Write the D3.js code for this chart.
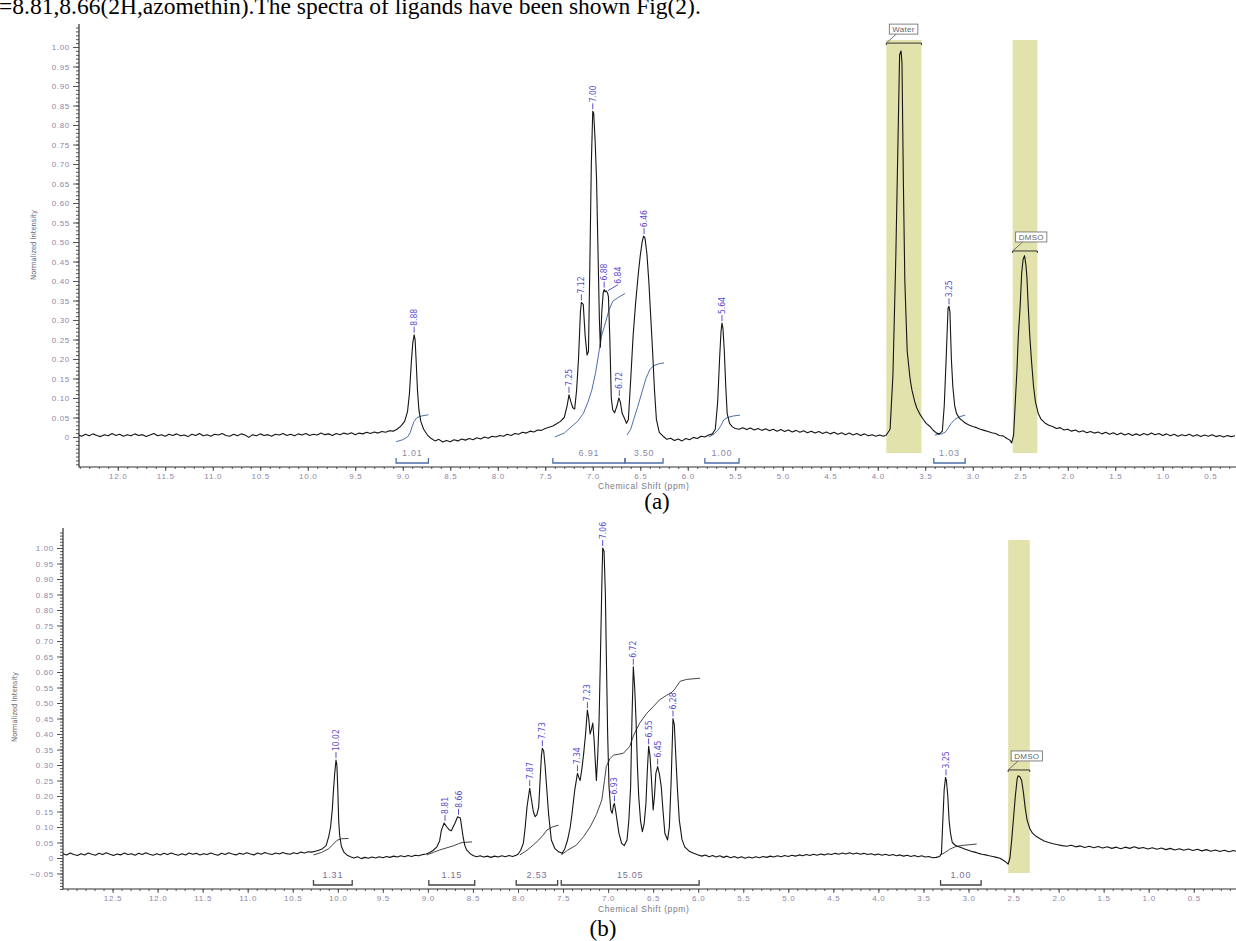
<!DOCTYPE html>
<html>
<head>
<meta charset="utf-8">
<script src="https://cdn.jsdelivr.net/npm/d3@7"></script>
<style>
body { margin: 0; background: #fff; overflow: hidden; }
svg { display: block; }
</style>
</head>
<body>
<svg id="chart" width="1236" height="941"></svg>
<script>
// ---------- data ----------
var yTicks = [0, 0.05, 0.10, 0.15, 0.20, 0.25, 0.30, 0.35, 0.40, 0.45, 0.50, 0.55, 0.60, 0.65, 0.70, 0.75, 0.80, 0.85, 0.90, 0.95, 1.00];
var yTicksB = [-0.05].concat(yTicks);
var xTicksA = [12.0, 11.5, 11.0, 10.5, 10.0, 9.5, 9.0, 8.5, 8.0, 7.5, 7.0, 6.5, 6.0, 5.5, 5.0, 4.5, 4.0, 3.5, 3.0, 2.5, 2.0, 1.5, 1.0, 0.5];
var xTicksB = [12.5].concat(xTicksA);

// spectrum (a): [ppm, normalized intensity]
var specA = [[12.42,0.006],[12.38,0.002],[12.34,0.007],[12.30,0.003],[12.26,0.008],[12.22,0.004],[12.18,0.001],[12.14,0.006],[12.10,0.003],[12.06,0.009],[12.02,0.004],[11.98,0.007],[11.94,0.002],[11.90,0.006],[11.86,0.003],[11.82,0.008],[11.78,0.004],[11.74,0.006],[11.70,0.001],[11.66,0.005],[11.62,0.009],[11.58,0.003],[11.54,0.006],[11.50,0.002],[11.46,0.007],[11.42,0.004],[11.38,0.008],[11.34,0.003],[11.30,0.005],[11.26,0.001],[11.22,0.007],[11.18,0.004],[11.14,0.009],[11.10,0.003],[11.06,0.006],[11.02,0.002],[10.98,0.007],[10.94,0.005],[10.90,0.009],[10.86,0.004],[10.82,0.002],[10.78,0.007],[10.74,0.003],[10.70,0.008],[10.66,0.005],[10.62,-0.001],[10.58,0.006],[10.54,0.003],[10.50,0.008],[10.46,0.004],[10.42,0.006],[10.38,0.002],[10.34,0.007],[10.30,0.005],[10.26,0.009],[10.22,0.004],[10.18,0.007],[10.14,0.003],[10.10,0.008],[10.06,0.005],[10.02,0.009],[9.98,0.004],[9.94,0.007],[9.90,0.005],[9.86,0.010],[9.82,0.006],[9.78,0.008],[9.74,0.004],[9.70,0.009],[9.66,0.006],[9.62,0.010],[9.58,0.007],[9.54,0.011],[9.50,0.006],[9.46,0.010],[9.42,0.008],[9.38,0.012],[9.34,0.009],[9.30,0.013],[9.26,0.010],[9.22,0.014],[9.18,0.012],[9.14,0.016],[9.10,0.015],[9.06,0.020],
  [9.02,0.028],[8.98,0.040],[8.95,0.065],[8.93,0.11],[8.91,0.19],[8.895,0.24],[8.88,0.262],[8.87,0.25],[8.86,0.20],[8.845,0.12],[8.83,0.07],[8.81,0.04],[8.78,0.02],[8.74,0.005],[8.70,-0.004],[8.66,-0.010],[8.62,-0.006],[8.58,-0.013],[8.54,-0.009],[8.50,-0.012],[8.46,-0.007],[8.42,-0.010],[8.38,-0.005],[8.34,-0.008],[8.30,-0.004],[8.26,-0.007],[8.22,-0.002],[8.18,-0.005],[8.14,0.000],[8.10,-0.003],[8.06,0.002],[8.02,0.000],[7.98,0.004],[7.94,0.002],[7.90,0.007],[7.86,0.004],[7.82,0.009],[7.78,0.007],[7.74,0.012],[7.70,0.010],[7.66,0.015],[7.62,0.013],[7.58,0.018],[7.54,0.017],[7.50,0.022],[7.46,0.025],[7.42,0.028],[7.38,0.034],[7.34,0.040],[7.30,0.050],[7.27,0.08],[7.25,0.108],[7.23,0.09],[7.21,0.075],[7.19,0.072],[7.17,0.12],[7.15,0.20],[7.13,0.32],[7.12,0.345],[7.10,0.34],[7.08,0.26],[7.06,0.21],[7.045,0.22],[7.03,0.45],[7.015,0.70],[7.00,0.835],[6.99,0.83],[6.975,0.76],[6.96,0.66],[6.945,0.48],[6.93,0.30],[6.92,0.23],[6.905,0.32],[6.89,0.37],[6.88,0.378],[6.87,0.372],[6.86,0.375],[6.845,0.37],[6.835,0.36],[6.82,0.25],[6.805,0.10],[6.79,0.07],[6.77,0.062],[6.745,0.08],[6.725,0.10],[6.71,0.09],[6.69,0.06],[6.67,0.05],[6.645,0.035],[6.625,0.045],[6.60,0.15],[6.575,0.26],[6.55,0.34],[6.52,0.42],[6.50,0.465],[6.48,0.50],[6.465,0.515],[6.45,0.51],[6.43,0.47],[6.41,0.40],[6.39,0.31],[6.37,0.22],[6.35,0.12],[6.33,0.045],[6.30,0.012],[6.26,0.002],[6.22,-0.006],[6.18,-0.003],[6.14,-0.009],[6.10,-0.005],[6.06,-0.010],[6.02,-0.004],[5.98,-0.007],[5.94,-0.001],[5.90,-0.004],[5.86,0.002],[5.82,0.000],[5.78,0.005],[5.74,0.008],[5.71,0.02],[5.685,0.09],[5.665,0.20],[5.65,0.27],[5.64,0.292],[5.63,0.28],[5.615,0.22],[5.60,0.13],[5.585,0.06],[5.56,0.035],[5.53,0.026],[5.50,0.022],[5.46,0.020],[5.42,0.024],[5.38,0.019],[5.34,0.023],[5.30,0.018],[5.26,0.022],[5.22,0.017],[5.18,0.021],[5.14,0.016],[5.10,0.020],[5.06,0.015],[5.02,0.019],[4.98,0.014],[4.94,0.018],[4.90,0.013],[4.86,0.017],[4.82,0.012],[4.78,0.016],[4.74,0.011],[4.70,0.015],[4.66,0.010],[4.62,0.014],[4.58,0.009],[4.54,0.013],[4.50,0.008],[4.46,0.012],[4.42,0.007],[4.38,0.011],[4.34,0.006],[4.30,0.010],[4.26,0.005],[4.22,0.009],[4.18,0.004],[4.14,0.008],[4.10,0.003],[4.06,0.006],[4.02,0.002],[3.98,0.005],[3.94,0.002],[3.91,0.005],[3.87,0.02],[3.84,0.16],[3.81,0.46],[3.79,0.72],[3.77,0.98],[3.755,0.99],[3.745,0.96],[3.73,0.65],[3.715,0.40],[3.69,0.22],[3.66,0.15],[3.64,0.12],[3.61,0.09],[3.59,0.075],[3.56,0.06],[3.52,0.045],[3.49,0.035],[3.45,0.027],[3.42,0.018],[3.38,0.010],[3.35,0.008],[3.32,0.015],[3.30,0.08],[3.28,0.20],[3.26,0.33],[3.25,0.335],[3.24,0.32],[3.225,0.20],[3.21,0.13],[3.19,0.08],[3.17,0.06],[3.14,0.048],[3.11,0.042],[3.08,0.036],[3.04,0.031],[3.00,0.027],[2.96,0.024],[2.92,0.020],[2.88,0.017],[2.84,0.014],[2.80,0.011],[2.76,0.009],[2.72,0.004],[2.68,0.003],[2.64,-0.004],[2.61,-0.008],[2.59,-0.015],[2.57,0.005],[2.55,0.10],[2.535,0.17],[2.52,0.26],[2.50,0.34],[2.485,0.42],[2.47,0.455],[2.455,0.465],[2.44,0.44],[2.43,0.41],[2.415,0.33],[2.40,0.26],[2.38,0.19],[2.36,0.13],[2.34,0.09],[2.31,0.06],[2.28,0.045],[2.24,0.036],[2.20,0.03],[2.16,0.027],[2.12,0.022],[2.08,0.024],[2.04,0.018],[2.00,0.020],[1.96,0.015],[1.92,0.018],[1.88,0.013],[1.84,0.016],[1.80,0.011],[1.76,0.014],[1.72,0.010],[1.68,0.013],[1.64,0.008],[1.60,0.012],[1.56,0.007],[1.52,0.011],[1.48,0.006],[1.44,0.010],[1.40,0.005],[1.36,0.009],[1.32,0.004],[1.28,0.008],[1.24,0.004],[1.20,0.009],[1.16,0.005],[1.12,0.010],[1.08,0.006],[1.04,0.009],[1.00,0.004],[0.96,0.008],[0.92,0.003],[0.88,0.007],[0.84,0.002],[0.80,0.006],[0.76,0.003],[0.72,0.007],[0.68,0.002],[0.64,0.006],[0.60,0.001],[0.56,0.005],[0.52,0.002],[0.48,0.006],[0.44,0.001],[0.40,0.004],[0.36,0.000],[0.32,0.004],[0.28,0.001],[0.24,0.003]];

// spectrum (b)
var specB = [[13.05,0.014],[13.01,0.010],[12.97,0.016],[12.93,0.011],[12.89,0.008],[12.85,0.014],[12.81,0.010],[12.77,0.016],[12.73,0.012],[12.69,0.009],[12.65,0.015],[12.61,0.011],[12.57,0.017],[12.53,0.012],[12.49,0.008],[12.45,0.013],[12.41,0.010],[12.37,0.016],[12.33,0.011],[12.29,0.014],[12.25,0.009],[12.21,0.015],[12.17,0.011],[12.13,0.017],[12.09,0.012],[12.05,0.009],[12.01,0.014],[11.97,0.010],[11.93,0.015],[11.89,0.011],[11.85,0.016],[11.81,0.012],[11.77,0.009],[11.73,0.014],[11.69,0.010],[11.65,0.016],[11.61,0.012],[11.57,0.015],[11.53,0.010],[11.49,0.014],[11.45,0.011],[11.41,0.016],[11.37,0.012],[11.33,0.009],[11.29,0.015],[11.25,0.011],[11.21,0.017],[11.17,0.013],[11.13,0.010],[11.09,0.015],[11.05,0.012],[11.01,0.017],[10.97,0.013],[10.93,0.010],[10.89,0.016],[10.85,0.012],[10.81,0.018],[10.77,0.014],[10.73,0.011],[10.69,0.016],[10.65,0.013],[10.61,0.018],[10.57,0.014],[10.53,0.012],[10.49,0.017],[10.45,0.014],[10.41,0.019],[10.37,0.016],[10.33,0.020],[10.29,0.019],[10.25,0.022],[10.21,0.025],[10.17,0.030],[10.13,0.040],[10.10,0.07],[10.08,0.10],[10.06,0.16],[10.05,0.21],[10.035,0.27],[10.02,0.316],[10.01,0.30],[10.00,0.22],[9.99,0.12],[9.98,0.075],[9.96,0.037],[9.93,0.018],[9.90,0.010],[9.86,0.004],[9.82,0.000],[9.78,0.004],[9.74,-0.002],[9.70,0.002],[9.66,-0.001],[9.62,0.003],[9.58,0.000],[9.54,0.004],[9.50,0.001],[9.46,0.005],[9.42,0.002],[9.38,0.006],[9.34,0.003],[9.30,0.007],[9.26,0.004],[9.22,0.008],[9.18,0.005],[9.14,0.009],[9.10,0.007],[9.06,0.011],[9.02,0.013],[8.98,0.018],[8.94,0.025],[8.90,0.036],[8.87,0.055],[8.85,0.09],[8.82,0.113],[8.79,0.10],[8.76,0.09],[8.74,0.088],[8.72,0.10],[8.70,0.112],[8.67,0.133],[8.64,0.129],[8.62,0.09],[8.61,0.069],[8.59,0.04],[8.57,0.026],[8.53,0.014],[8.50,0.008],[8.46,0.004],[8.42,0.007],[8.38,0.003],[8.34,0.006],[8.30,0.002],[8.26,0.006],[8.22,0.003],[8.18,0.007],[8.14,0.004],[8.10,0.008],[8.06,0.005],[8.02,0.009],[8.00,0.012],[7.97,0.025],[7.94,0.048],[7.92,0.10],[7.90,0.165],[7.87,0.225],[7.85,0.187],[7.83,0.15],[7.81,0.133],[7.79,0.14],[7.77,0.165],[7.755,0.25],[7.74,0.33],[7.73,0.354],[7.715,0.345],[7.70,0.30],[7.68,0.22],[7.66,0.14],[7.63,0.058],[7.59,0.03],[7.55,0.02],[7.51,0.015],[7.48,0.03],[7.45,0.058],[7.42,0.10],[7.40,0.144],[7.37,0.22],[7.34,0.273],[7.325,0.26],[7.31,0.25],[7.29,0.29],[7.27,0.34],[7.25,0.40],[7.23,0.477],[7.215,0.45],[7.20,0.40],[7.185,0.415],[7.17,0.435],[7.155,0.38],[7.14,0.30],[7.13,0.25],[7.115,0.33],[7.10,0.445],[7.085,0.65],[7.07,0.875],[7.06,1.0],[7.045,0.99],[7.03,0.85],[7.02,0.66],[7.005,0.40],[6.99,0.23],[6.97,0.155],[6.955,0.144],[6.94,0.17],[6.93,0.176],[6.915,0.15],[6.90,0.12],[6.88,0.08],[6.85,0.047],[6.82,0.04],[6.79,0.058],[6.77,0.12],[6.75,0.23],[6.735,0.45],[6.72,0.617],[6.705,0.55],[6.69,0.445],[6.675,0.30],[6.66,0.198],[6.64,0.12],[6.62,0.085],[6.60,0.11],[6.58,0.176],[6.565,0.28],[6.55,0.36],[6.535,0.33],[6.52,0.26],[6.50,0.155],[6.485,0.20],[6.47,0.273],[6.45,0.295],[6.43,0.27],[6.41,0.23],[6.39,0.15],[6.37,0.08],[6.34,0.058],[6.32,0.10],[6.30,0.25],[6.28,0.45],[6.265,0.43],[6.25,0.338],[6.23,0.22],[6.21,0.123],[6.18,0.06],[6.15,0.036],[6.10,0.022],[6.05,0.015],[6.00,0.010],[5.96,0.006],[5.92,0.010],[5.88,0.004],[5.84,0.008],[5.80,0.003],[5.76,0.007],[5.72,0.002],[5.68,0.006],[5.64,0.001],[5.60,0.005],[5.56,0.000],[5.52,0.004],[5.48,-0.001],[5.44,0.003],[5.40,0.000],[5.36,0.004],[5.32,0.001],[5.28,0.005],[5.24,0.002],[5.20,0.006],[5.16,0.003],[5.12,0.007],[5.08,0.004],[5.04,0.008],[5.00,0.005],[4.96,0.009],[4.92,0.006],[4.88,0.010],[4.84,0.007],[4.80,0.011],[4.76,0.008],[4.72,0.012],[4.68,0.009],[4.64,0.013],[4.60,0.010],[4.56,0.014],[4.52,0.011],[4.48,0.015],[4.44,0.012],[4.40,0.016],[4.36,0.013],[4.32,0.017],[4.28,0.013],[4.24,0.016],[4.20,0.012],[4.16,0.015],[4.12,0.011],[4.08,0.014],[4.04,0.010],[4.00,0.013],[3.96,0.009],[3.92,0.012],[3.88,0.008],[3.84,0.011],[3.80,0.007],[3.76,0.010],[3.72,0.006],[3.68,0.009],[3.64,0.005],[3.60,0.008],[3.56,0.004],[3.52,0.007],[3.48,0.003],[3.44,0.005],[3.40,0.001],[3.36,0.002],[3.32,0.005],[3.30,0.015],[3.285,0.12],[3.27,0.22],[3.255,0.26],[3.245,0.25],[3.23,0.20],[3.215,0.12],[3.20,0.08],[3.18,0.05],[3.15,0.042],[3.12,0.037],[3.09,0.035],[3.05,0.030],[3.01,0.026],[2.97,0.022],[2.93,0.019],[2.89,0.015],[2.85,0.012],[2.81,0.010],[2.77,0.007],[2.73,0.005],[2.69,0.002],[2.65,-0.001],[2.61,-0.008],[2.58,-0.014],[2.56,-0.02],[2.54,0.00],[2.52,0.06],[2.50,0.13],[2.48,0.20],[2.46,0.255],[2.45,0.265],[2.43,0.262],[2.41,0.25],[2.39,0.21],[2.37,0.16],[2.35,0.123],[2.32,0.095],[2.29,0.08],[2.25,0.07],[2.21,0.063],[2.16,0.055],[2.11,0.050],[2.06,0.046],[2.01,0.043],[1.96,0.040],[1.91,0.038],[1.86,0.041],[1.81,0.036],[1.76,0.039],[1.71,0.034],[1.66,0.038],[1.61,0.033],[1.56,0.037],[1.51,0.032],[1.46,0.036],[1.41,0.031],[1.36,0.035],[1.31,0.030],[1.26,0.035],[1.21,0.031],[1.16,0.036],[1.11,0.031],[1.06,0.034],[1.01,0.029],[0.96,0.033],[0.91,0.028],[0.86,0.032],[0.81,0.027],[0.76,0.031],[0.71,0.026],[0.66,0.030],[0.61,0.025],[0.56,0.029],[0.51,0.024],[0.46,0.028],[0.41,0.023],[0.36,0.027],[0.31,0.022],[0.26,0.026],[0.21,0.021],[0.16,0.025],[0.11,0.020],[0.06,0.024],[0.02,0.021]];

// integral curves
var intCurvesA = [
  [[9.07,-0.012],[9.0,-0.007],[8.95,0.0],[8.92,0.012],[8.90,0.028],[8.88,0.04],[8.85,0.05],[8.80,0.054],[8.73,0.057]],
  [[7.40,0.0],[7.30,0.01],[7.24,0.023],[7.16,0.04],[7.10,0.06],[7.05,0.09],[7.01,0.12],[6.97,0.165],[6.94,0.21],[6.91,0.257],[6.87,0.29],[6.83,0.325],[6.79,0.348],[6.73,0.358],[6.66,0.368]],
  [[6.64,0.005],[6.60,0.02],[6.57,0.044],[6.53,0.075],[6.50,0.10],[6.47,0.125],[6.44,0.15],[6.40,0.172],[6.36,0.183],[6.30,0.188],[6.25,0.19]],
  [[5.78,0.0],[5.72,0.008],[5.68,0.018],[5.65,0.03],[5.62,0.044],[5.58,0.05],[5.52,0.054],[5.45,0.056]],
  [[3.40,0.005],[3.33,0.008],[3.29,0.012],[3.26,0.022],[3.23,0.034],[3.19,0.045],[3.14,0.052],[3.08,0.056]]
];
var intCurvesB = [
  [[10.27,0.01],[10.18,0.018],[10.10,0.03],[10.05,0.045],[10.01,0.057],[9.96,0.062],[9.88,0.063]],
  [[9.01,0.01],[8.94,0.018],[8.87,0.026],[8.80,0.032],[8.72,0.039],[8.66,0.046],[8.62,0.05],[8.51,0.052]],
  [[7.98,0.01],[7.90,0.025],[7.83,0.042],[7.77,0.058],[7.72,0.074],[7.68,0.09],[7.62,0.10],[7.55,0.106]],
  [[7.52,0.01],[7.45,0.025],[7.35,0.042],[7.27,0.07],[7.20,0.10],[7.13,0.14],[7.07,0.187],[7.04,0.25],[7.02,0.295],[6.98,0.32],[6.94,0.332],[6.88,0.335],[6.83,0.338],[6.76,0.36],[6.73,0.385],[6.71,0.40],[6.65,0.435],[6.57,0.467],[6.50,0.488],[6.43,0.51],[6.35,0.525],[6.29,0.535],[6.26,0.545],[6.20,0.57],[6.13,0.576],[5.98,0.58]],
  [[3.31,0.01],[3.26,0.018],[3.21,0.028],[3.15,0.036],[3.09,0.04],[2.91,0.045]]
];

// integration ranges and values
var intRangesA = [[9.07,8.73],[7.42,6.66],[6.66,6.26],[5.82,5.46],[3.41,3.08]];
var intValuesA = ["1.01","6.91","3.50","1.00","1.03"];
var intRangesB = [[10.27,9.84],[8.99,8.48],[8.02,7.56],[7.52,5.99],[3.31,2.86]];
var intValuesB = ["1.31","1.15","2.53","15.05","1.00"];

// picked peaks and their heights
var peaksA = [8.88, 7.25, 7.12, 7.00, 6.88, 6.84, 6.72, 6.46, 5.64, 3.25];
var peakTopsA = [0.262, 0.108, 0.345, 0.835, 0.378, 0.37, 0.10, 0.515, 0.292, 0.335];
var peaksB = [10.02, 8.81, 8.66, 7.87, 7.73, 7.34, 7.23, 7.06, 6.93, 6.72, 6.55, 6.45, 6.28, 3.25];
var peakTopsB = [0.316, 0.113, 0.133, 0.225, 0.354, 0.273, 0.477, 1.0, 0.176, 0.617, 0.36, 0.295, 0.45, 0.26];

// solvent regions [from, to] ppm
var solventA = [[3.91, 3.54], [2.58, 2.32]];
var solventNamesA = ["Water", "DMSO"];
var solventLevelsA = [1.01, 0.477];
var solventB = [[2.56, 2.32]];
var solventNamesB = ["DMSO"];
var solventLevelsB = [0.284];

// ---------- drawing ----------
var svg = d3.select("#chart");
var W = 1236;
var labelColor = "#8f86a6";
var peakColor = "#5a4ed0";
var fmt2 = d3.format(".2f");

svg.append("text")
  .attr("x", -1).attr("y", 14)
  .style("font-family", "'Liberation Serif','Times New Roman',serif")
  .style("font-size", "23.5px")
  .attr("fill", "#000")
  .text("=8.81,8.66(2H,azomethin).The spectra of ligands have been shown Fig(2).");

function styleTicks(a) {
  a.select(".domain").remove();
  a.selectAll("line").attr("stroke", "#555");
  a.selectAll("text").attr("fill", labelColor)
    .style("font-family", "'Liberation Sans',Arial,sans-serif")
    .style("font-size", "8px").style("letter-spacing", "0.7px");
}

function drawPanel(p) {
  var g = svg.append("g");
  var x = p.x, y = p.y;
  var clipId = "clip" + p.name;
  g.append("clipPath").attr("id", clipId).append("rect")
    .attr("x", p.left).attr("y", p.top).attr("width", W - p.left).attr("height", p.bottom - p.top);

  // solvent bands
  g.selectAll(".band").data(p.solvent).enter().append("rect")
    .attr("x", function(d) { return x(d[0]); })
    .attr("width", function(d) { return x(d[1]) - x(d[0]); })
    .attr("y", p.bandTop)
    .attr("height", p.bandBottom - p.bandTop)
    .attr("fill", "#e2e2ad");

  // y axis: minor then major ticks
  var yMinor = d3.range(p.yMin, p.yMax + 1).map(function(i) { return i / 100; });
  g.append("g").attr("transform", "translate(" + p.left + ",0)")
    .call(d3.axisLeft(y).tickValues(yMinor).tickSize(3).tickFormat(""))
    .call(styleTicks);
  g.append("g").attr("transform", "translate(" + p.left + ",0)")
    .call(d3.axisLeft(y).tickValues(p.yTicks).tickSize(6).tickPadding(3)
      .tickFormat(function(d) { return d === 0 ? "0" : fmt2(d); }))
    .call(styleTicks);

  // x axis
  var xMinor = d3.range(0, 135).map(function(i) { return i / 10; })
    .filter(function(v) { return x(v) >= p.left && x(v) <= W; });
  g.append("g").attr("transform", "translate(0," + p.bottom + ")")
    .call(d3.axisBottom(x).tickValues(xMinor).tickSize(2).tickFormat(""))
    .call(styleTicks);
  g.append("g").attr("transform", "translate(0," + p.bottom + ")")
    .call(d3.axisBottom(x).tickValues(p.xTicks).tickSize(4).tickPadding(2)
      .tickFormat(d3.format(".1f")))
    .call(styleTicks);

  g.append("path")
    .attr("d", "M" + p.left + "," + p.top + "V" + p.bottom + "H" + W)
    .attr("fill", "none").attr("stroke", "#333").attr("stroke-width", 1.2);

  g.append("text")
    .attr("x", p.titleX).attr("y", p.titleY)
    .style("font-family", "'Liberation Sans',Arial,sans-serif")
    .style("font-size", "8.5px").style("letter-spacing", "0.6px")
    .attr("fill", "#7a7a86")
    .text("Chemical Shift (ppm)");

  g.append("text")
    .attr("transform", "translate(" + p.ylabX + "," + p.ylabY + ") rotate(-90)")
    .attr("text-anchor", "middle")
    .style("font-family", "'DejaVu Sans Condensed','DejaVu Sans',sans-serif")
    .style("font-size", "7.5px")
    .attr("fill", "#6a6a7a")
    .text("Normalized Intensity");

  // integration brackets
  p.intRanges.forEach(function(r, i) {
    var x0 = x(r[0]), x1 = x(r[1]);
    g.append("path")
      .attr("d", "M" + x0 + "," + (p.brY - 5) + "V" + p.brY + "H" + x1 + "V" + (p.brY - 5))
      .attr("fill", "none").attr("stroke", p.intColor).attr("stroke-width", 1.3);
    g.append("text")
      .attr("x", (x0 + x1) / 2).attr("y", p.brY - 7)
      .attr("text-anchor", "middle")
      .style("font-family", "'Liberation Sans',Arial,sans-serif")
      .style("font-size", "9px").style("letter-spacing", "0.8px")
      .attr("fill", p.intLabelColor)
      .text(p.intValues[i]);
  });

  var line = d3.line()
    .x(function(d) { return x(d[0]); })
    .y(function(d) { return y(d[1]); });

  var plot = g.append("g").attr("clip-path", "url(#" + clipId + ")");

  plot.selectAll(".int").data(p.intCurves).enter().append("path")
    .attr("d", line)
    .attr("fill", "none").attr("stroke", p.intColor).attr("stroke-width", 1);

  plot.append("path").datum(p.spec)
    .attr("d", line)
    .attr("fill", "none").attr("stroke", "#151515").attr("stroke-width", 1.1)
    .attr("stroke-linejoin", "round");

  // solvent annotations (boxed name + bracket)
  p.solvent.forEach(function(r, i) {
    var x0 = x(r[0]), x1 = x(r[1]), by = y(p.solventLevels[i]);
    g.append("path")
      .attr("d", "M" + x0 + "," + (by + 2) + "V" + by + "H" + x1 + "V" + (by + 2))
      .attr("fill", "none").attr("stroke", "#333").attr("stroke-width", 1);
    var box = g.append("rect");
    var t = g.append("text")
      .attr("x", x0 + 6).attr("y", by - 11)
      .style("font-family", "'Liberation Sans',Arial,sans-serif")
      .style("font-size", "8px").style("letter-spacing", "0.3px")
      .attr("fill", "#666")
      .text(p.solventNames[i]);
    var bb = t.node().getBBox();
    box.attr("x", bb.x - 3).attr("y", by - 19)
      .attr("width", bb.width + 6).attr("height", 10)
      .attr("fill", "#fff").attr("stroke", "#666").attr("stroke-width", 0.8);
    g.append("path")
      .attr("d", "M" + x0 + "," + by + "L" + (bb.x + 4) + "," + (by - 9))
      .attr("fill", "none").attr("stroke", "#555").attr("stroke-width", 0.8);
  });

  // peak labels
  p.peaks.forEach(function(pk, i) {
    var px = x(pk), py = y(p.peakTops[i]);
    var dx = p.nudge[fmt2(pk)] || 0;
    g.append("path")
      .attr("d", "M" + px + "," + (py - 2) + "L" + (px + dx) + "," + (py - 8))
      .attr("fill", "none").attr("stroke", peakColor).attr("stroke-width", 1);
    g.append("text")
      .attr("transform", "translate(" + (px + dx) + "," + (py - 9) + ") rotate(-90)")
      .attr("dominant-baseline", "central")
      .style("font-family", "'DejaVu Sans Condensed','DejaVu Sans',sans-serif")
      .style("font-size", "8.5px")
      .attr("fill", peakColor)
      .text(fmt2(pk));
  });
}

drawPanel({
  name: "A",
  x: d3.scaleLinear().domain([0, 10]).range([1257.75, 307.75]),
  y: d3.scaleLinear().domain([0, 1]).range([437, 47]),
  left: 79, top: 24, bottom: 467,
  yMin: -7, yMax: 105,
  yTicks: yTicks, xTicks: xTicksA,
  bandTop: 40, bandBottom: 453,
  brY: 463, intColor: "#4b6fa8", intLabelColor: "#8a8aa6",
  titleX: 598, titleY: 489, ylabX: 36, ylabY: 245,
  spec: specA, intCurves: intCurvesA,
  intRanges: intRangesA, intValues: intValuesA,
  peaks: peaksA, peakTops: peakTopsA,
  solvent: solventA, solventNames: solventNamesA, solventLevels: solventLevelsA,
  nudge: {"6.84": 10}
});

drawPanel({
  name: "B",
  x: d3.scaleLinear().domain([0, 10]).range([1238.8, 337.8]),
  y: d3.scaleLinear().domain([0, 1]).range([858, 548]),
  left: 63, top: 528, bottom: 889,
  yMin: -10, yMax: 105,
  yTicks: yTicksB, xTicks: xTicksB,
  bandTop: 540, bandBottom: 873,
  brY: 885, intColor: "#444", intLabelColor: "#7a7090",
  titleX: 598, titleY: 912, ylabX: 17, ylabY: 707,
  spec: specB, intCurves: intCurvesB,
  intRanges: intRangesB, intValues: intValuesB,
  peaks: peaksB, peakTops: peakTopsB,
  solvent: solventB, solventNames: solventNamesB, solventLevels: solventLevelsB,
  nudge: {}
});

svg.append("text").attr("x", 657).attr("y", 509).attr("text-anchor", "middle")
  .style("font-family", "'Liberation Serif','Times New Roman',serif").style("font-size", "23px")
  .text("(a)");
svg.append("text").attr("x", 603).attr("y", 936).attr("text-anchor", "middle")
  .style("font-family", "'Liberation Serif','Times New Roman',serif").style("font-size", "23px")
  .text("(b)");
</script>
</body>
</html>
